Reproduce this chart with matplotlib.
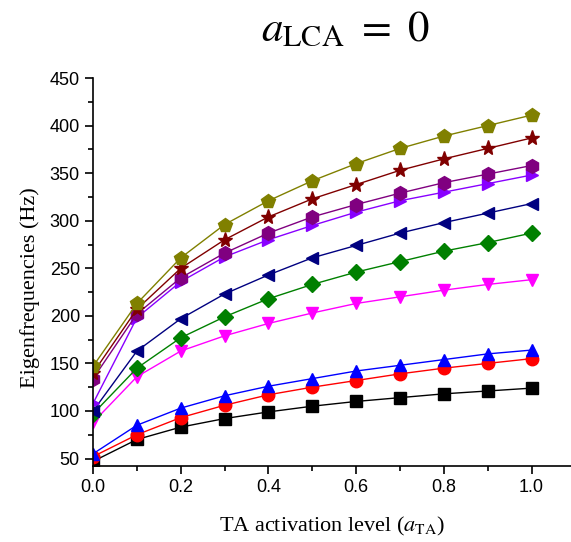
import matplotlib

matplotlib.use("Agg")
import matplotlib.pyplot as plt
from matplotlib.ticker import MultipleLocator

# TA activation level
x_levels = [0.0, 0.1, 0.2, 0.3, 0.4, 0.5, 0.6, 0.7, 0.8, 0.9, 1.0]

# eigenfrequencies (Hz), one list per mode
mode_1 = [47, 70, 83, 92, 99, 105, 110, 114, 118, 121, 124]
mode_2 = [52, 75, 93, 106, 117, 125, 132, 139, 145, 150, 155]
mode_3 = [55, 85, 103, 116, 126, 134, 142, 148, 154, 160, 164]
mode_4 = [88, 136, 163, 179, 192, 203, 213, 220, 227, 233, 238]
mode_5 = [97, 145, 177, 199, 218, 233, 246, 257, 268, 277, 287]
mode_6 = [100, 163, 197, 223, 243, 261, 274, 287, 298, 308, 318]
mode_7 = [108, 198, 236, 262, 280, 295, 309, 321, 330, 339, 348]
mode_8 = [134, 202, 240, 266, 287, 304, 317, 329, 340, 349, 358]
mode_9 = [140, 207, 250, 280, 304, 323, 338, 353, 365, 376, 387]
mode_10 = [147, 213, 261, 296, 321, 342, 360, 376, 389, 400, 411]

modes = [mode_1, mode_2, mode_3, mode_4, mode_5, mode_6, mode_7, mode_8, mode_9, mode_10]
colors = ["#000000", "#FF0000", "#0000FF", "#FF00FF", "#008000",
          "#000080", "#8800FF", "#800080", "#800000", "#808000"]
markers = ["s", "o", "^", "v", "D", "<", ">", "h", "*", "p"]
sizes = [9, 9, 9, 9, 8, 9, 9, 10, 11, 10]

plt.rcParams["mathtext.fontset"] = "stix"

fig = plt.figure(figsize=(5.71, 5.42), dpi=100)
ax = fig.add_axes([0.163, 0.140, 0.837, 0.716])

for ys, c, m, s in zip(modes, colors, markers, sizes):
    ax.plot(x_levels, ys, color=c, marker=m, markersize=s, linewidth=1.0,
            markeredgecolor=c)

ax.set_xlim(0, 1.09)
ax.set_ylim(42, 450)
ax.xaxis.set_minor_locator(MultipleLocator(0.1))
ax.yaxis.set_minor_locator(MultipleLocator(25))
ax.set_xticks([0.0, 0.2, 0.4, 0.6, 0.8, 1.0])
ax.set_yticks(range(50, 451, 50))
ax.spines["top"].set_visible(False)
ax.spines["right"].set_visible(False)
ax.spines["left"].set_linewidth(1.2)
ax.spines["bottom"].set_linewidth(1.2)
ax.tick_params(which="major", direction="out", length=5.5, width=1.2,
               labelsize=13, pad=4)
ax.tick_params(which="minor", direction="out", length=3.5, width=1.2)
for lab in ax.get_xticklabels() + ax.get_yticklabels():
    lab.set_fontfamily("Liberation Sans")

ax.set_ylabel("Eigenfrequencies (Hz)", fontfamily="Liberation Serif",
              fontsize=16)
ax.yaxis.set_label_coords(-0.112, 0.46)
ax.set_xlabel(r"TA activation level ($a_{\mathrm{TA}}$)",
              fontfamily="Liberation Serif", fontsize=16)
ax.xaxis.set_label_coords(0.5, -0.126)

fig.text(0.604, 0.923, r"$a_{\mathrm{LCA}}\ =\ 0$", ha="center", va="baseline",
         fontsize=31)

fig.savefig("out.png", dpi=100)
plt.close(fig)
